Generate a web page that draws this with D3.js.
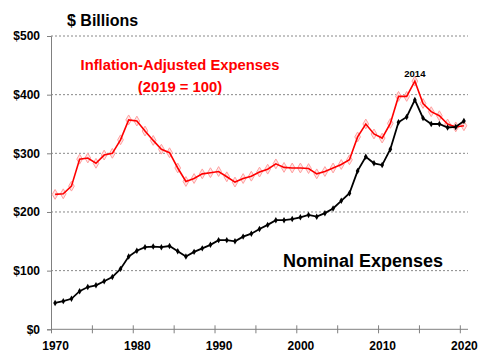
<!DOCTYPE html>
<html><head><meta charset="utf-8">
<script src="https://cdn.jsdelivr.net/npm/d3@7/dist/d3.min.js"></script>
<style>html,body{margin:0;padding:0;background:#fff;}svg{display:block;font-family:"Liberation Sans",Arial,sans-serif;}</style>
</head><body>
<svg id="c" width="480" height="360"></svg>
<script>
const years = d3.range(1970, 2021);
const nominal = [45,48,52,65,72,75,82,89,103,124,134,140,141,140,142,133,124,132,138,144,152,152,150,158,163,171,178,186,186,188,191,195,192,198,206,219,232,270,294,283,280,307,353,362,391,360,350,350,344,345,355];
const adjusted = [230,231,244,290,292,283,297,300,323,357,355,338,322,307,301,275,252,257,265,267,269,260,251,257,261,268,273,282,276,275,275,274,265,269,275,281,289,328,350,333,326,351,397,397,423,385,371,364,350,345,347];
const xTickLabels = [1970,1980,1990,2000,2010,2020];
const yTicks = [0,100,200,300,400,500];

const svg = d3.select("#c");
const x = d3.scaleLinear().domain([1969.5, 2020.5]).range([51, 468]);
const y = d3.scaleLinear().domain([0, 500]).range([329.3, 36]);

// gridlines
svg.append("g").selectAll("line").data(yTicks.filter(d => d > 0)).join("line")
  .attr("x1", 51).attr("x2", 468).attr("y1", d => y(d)).attr("y2", d => y(d))
  .attr("stroke", "#888").attr("stroke-width", 1).attr("stroke-dasharray", "2,2");

// y axis
const ya = svg.append("g").attr("transform", "translate(51,0)")
  .call(d3.axisLeft(y).tickValues(yTicks).tickSize(4).tickFormat(d => "$" + d));
ya.select(".domain").attr("stroke", "#808080");
ya.selectAll(".tick line").attr("stroke", "#808080");
ya.selectAll("text").attr("font-size", 12).attr("font-weight", "bold").attr("fill", "#000")
  .attr("font-family", "Liberation Sans, Arial, sans-serif").attr("dx", -4);

// x axis ticks
const xa = svg.append("g").attr("transform", "translate(0,329.3)")
  .call(d3.axisBottom(x).tickValues(d3.range(1969.5, 2020, 5)).tickSize(4).tickFormat(""));
xa.select(".domain").attr("stroke", "#808080").attr("d", "M51,0H468");
xa.selectAll(".tick line").attr("stroke", "#808080").attr("y1", -4).attr("y2", 4);
// x labels
const xl = svg.append("g").attr("transform", "translate(0,329.3)")
  .call(d3.axisBottom(x).tickValues(xTickLabels).tickSize(0).tickFormat(d3.format("d")));
xl.select(".domain").remove();
xl.selectAll("text").attr("font-size", 12).attr("font-weight", "bold").attr("fill", "#000")
  .attr("font-family", "Liberation Sans, Arial, sans-serif").attr("dy", "1.45em");

const line = d3.line().x((d, i) => x(years[i])).y(d => y(d));

// red series
svg.append("g").selectAll("path").data(adjusted).join("path")
  .attr("transform", (d, i) => `translate(${x(years[i])},${y(d)})`)
  .attr("d", d3.symbol(d3.symbolDiamond, 28))
  .attr("fill", "#ffe6e6").attr("stroke", "#ffa0a0").attr("stroke-width", 1);
svg.append("path").datum(adjusted).attr("d", line)
  .attr("fill", "none").attr("stroke", "#ff0000").attr("stroke-width", 1.6);

// black series
svg.append("path").datum(nominal).attr("d", line)
  .attr("fill", "none").attr("stroke", "#000").attr("stroke-width", 1.8);
svg.append("g").selectAll("path").data(nominal).join("path")
  .attr("transform", (d, i) => `translate(${x(years[i])},${y(d)})`)
  .attr("d", d3.symbol(d3.symbolDiamond, 12)).attr("fill", "#000");

// texts
svg.append("text").attr("x", 67).attr("y", 26).attr("font-size", 16).attr("font-weight", "bold").text("$ Billions");
svg.append("text").attr("x", 180).attr("y", 70).attr("text-anchor", "middle").attr("font-size", 14.8)
  .attr("font-weight", "bold").attr("fill", "#ff0000").text("Inflation-Adjusted Expenses");
svg.append("text").attr("x", 180).attr("y", 92).attr("text-anchor", "middle").attr("font-size", 14.8)
  .attr("font-weight", "bold").attr("fill", "#ff0000").text("(2019 = 100)");
svg.append("text").attr("x", x(2014)).attr("y", 77).attr("text-anchor", "middle").attr("font-size", 9.5)
  .attr("font-weight", "bold").text("2014");
svg.append("text").attr("x", 363).attr("y", 267).attr("text-anchor", "middle").attr("font-size", 18)
  .attr("font-weight", "bold").text("Nominal Expenses");
</script>
</body></html>
